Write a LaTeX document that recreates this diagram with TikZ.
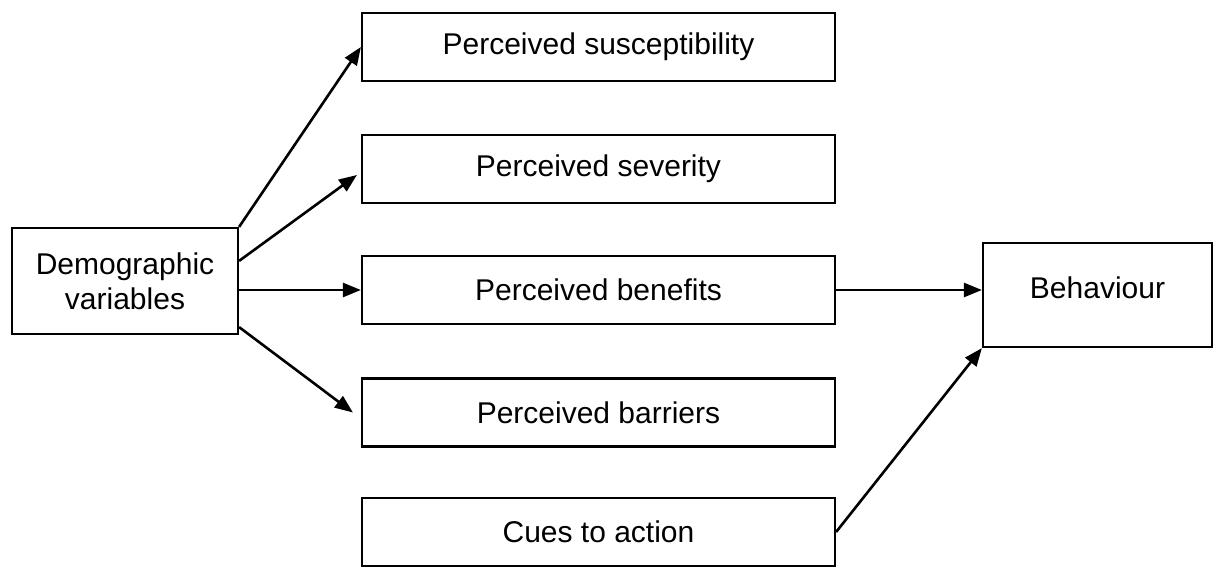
\documentclass[tikz,border=0pt]{standalone}
\usepackage{fontspec}
\setmainfont{Liberation Sans}
\usetikzlibrary{arrows.meta,calc}
\begin{document}
\begin{tikzpicture}[x=1pt,y=-1pt,
  box/.style={draw,line width=2.2pt,rectangle,inner sep=0pt,align=center,
    font=\fontsize{30}{35}\selectfont},
  midbox/.style={box,minimum width=473pt,minimum height=68pt},
  conn/.style={line width=2.6pt,-{Triangle[length=18pt,width=14pt]}}]
\useasboundingbox (0,0) rectangle (1213,567);
\node[box,minimum width=226pt,minimum height=106pt] (dem) at (125,281) {Demographic\\variables};
\node[midbox] (sus) at (598.5,47) {Perceived susceptibility};
\node[midbox] (sev) at (598.5,169) {Perceived severity};
\node[midbox] (ben) at (598.5,290) {Perceived benefits};
\node[midbox] (bar) at (598.5,412.5) {Perceived barriers};
\node[midbox] (cue) at (598.5,532) {Cues to action};
\node[box,minimum width=229pt,minimum height=104pt] (beh) at (1097.5,295) {\raisebox{7pt}[\height][\depth]{Behaviour}};
\draw[conn] (dem.north east) -- (sus.west);
\draw[conn] ($(dem.north east)+(0,34)$) -- ($(sev.west)+(-4,6)$);
\draw[conn] (dem.east |- ben.west) -- (ben.west);
\draw[conn] ($(dem.south east)+(0,-8)$) -- ($(bar.west)+(-8,0)$);
\draw[conn] (ben.east) -- (ben.east -| beh.west);
\draw[conn] (cue.east) -- (beh.south west);
\end{tikzpicture}
\end{document}
